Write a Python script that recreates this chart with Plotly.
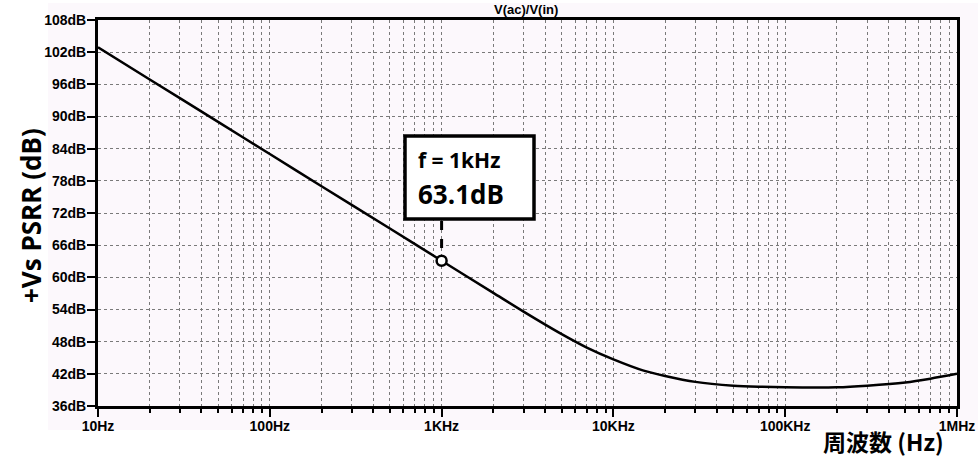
import plotly.graph_objects as go
import math

# ---- data ----
freq_hz = [10, 20, 50, 100, 200, 500, 1000, 2000, 3000, 5000, 7000, 10000,
           15000, 20000, 30000, 50000, 70000, 100000, 200000, 300000,
           500000, 700000, 1000000]
psrr_db = [102.9, 96.9, 89.0, 83.0, 77.0, 69.1, 63.1, 57.1, 53.6, 49.4, 46.9, 44.7,
           42.6, 41.6, 40.5, 39.8, 39.6, 39.5, 39.5, 39.8,
           40.4, 41.1, 42.0]

x_tick_vals = [10, 100, 1000, 10000, 100000, 1000000]
x_tick_text = ["10Hz", "100Hz", "1KHz", "10KHz", "100KHz", "1MHz"]
y_tick_vals = [36, 42, 48, 54, 60, 66, 72, 78, 84, 90, 96, 102, 108]
y_tick_text = [f"{v}dB" for v in y_tick_vals]
minor_vals = [m * d for d in [10, 100, 1000, 10000, 100000] for m in range(2, 10)]

marker_f = [1000]
marker_db = [63.1]
label_freq = "f = 1kHz"
label_val = "63.1dB"

chart_title = "V(ac)/V(in)"
y_title = "+Vs PSRR (dB)"
x_title = "周波数 (Hz)"

# ---- geometry ----
W, H = 978, 460
L, R, T, B = 98, 21, 20, 54
PW, PH = W - L - R, H - T - B
X_RANGE = [1, 6]

def px(xpix):
    return (xpix - L) / PW

def py(ypix):
    return 1 - (ypix - T) / PH

def fx(freq):
    return (math.log10(freq) - X_RANGE[0]) / (X_RANGE[1] - X_RANGE[0])

PINK = "#FCF8FC"
GRID = "#7a7a7a"
FONT = "Liberation Sans, Arial, sans-serif"
CAL = "Open Sans, Noto Sans, sans-serif"

fig = go.Figure()

fig.add_trace(go.Scatter(
    x=freq_hz, y=psrr_db, mode="lines",
    line=dict(color="black", width=2.5, shape="spline", smoothing=0.8),
    hoverinfo="skip", showlegend=False,
))

fig.add_trace(go.Scatter(
    x=marker_f, y=marker_db, mode="markers",
    marker=dict(symbol="circle", size=10, color="white",
                line=dict(color="black", width=2.5)),
    showlegend=False, hoverinfo="skip",
))

shapes = [
    # pink background panel
    dict(type="rect", xref="paper", yref="paper", layer="below",
         x0=px(48), x1=px(978), y0=py(430), y1=py(3),
         fillcolor=PINK, line=dict(width=0)),
    # callout box
    dict(type="rect", xref="paper", yref="paper", layer="above",
         x0=px(405), x1=px(534), y0=py(219), y1=py(136),
         fillcolor="white", line=dict(color="black", width=3.5)),
    # dashed leader
    dict(type="line", xref="paper", yref="paper", layer="above",
         x0=fx(marker_f[0]), x1=fx(marker_f[0]),
         y0=py(221), y1=py(256),
         line=dict(color="black", width=3, dash="dash")),
]

annotations = [
    dict(text=f"<b>{chart_title}</b>", xref="paper", yref="paper",
         x=px(526), y=py(10), xanchor="center", yanchor="middle", showarrow=False,
         font=dict(family=FONT, size=13, color="black")),
    dict(text=f"<b>{y_title}</b>", xref="paper", yref="paper",
         x=px(31), y=py(216), xanchor="center", yanchor="middle", showarrow=False,
         textangle=-90, font=dict(family=CAL, size=26, color="black")),
    dict(text=f"<b>{x_title}</b>", xref="paper", yref="paper",
         x=px(946), y=py(441), xanchor="right", yanchor="middle", showarrow=False,
         font=dict(family="Noto Sans CJK JP, Noto Sans, sans-serif", size=23, color="black")),
    dict(text=f"<b>{label_freq}</b>", xref="paper", yref="paper",
         x=px(416), y=py(160), xanchor="left", yanchor="middle", showarrow=False,
         font=dict(family=CAL, size=21, color="black")),
    dict(text=f"<b>{label_val}</b>", xref="paper", yref="paper",
         x=px(416), y=py(194), xanchor="left", yanchor="middle", showarrow=False,
         font=dict(family=CAL, size=26, color="black")),
]

fig.update_layout(
    width=W, height=H,
    margin=dict(l=L, r=R, t=T, b=B, pad=0, autoexpand=False),
    paper_bgcolor="white", plot_bgcolor=PINK,
    shapes=shapes, annotations=annotations,
    showlegend=False,
)

fig.update_xaxes(
    type="log", range=X_RANGE, automargin=False,
    tickvals=x_tick_vals, ticktext=x_tick_text,
    tickfont=dict(family=FONT, size=14, color="black", weight="bold"),
    ticks="outside", ticklen=8, tickwidth=2, tickcolor="black",
    ticklabelstandoff=-3,
    showline=True, linecolor="black", linewidth=3, mirror=True,
    showgrid=True, gridcolor=GRID, griddash="dot", gridwidth=1,
    zeroline=False,
    minor=dict(tickvals=minor_vals, ticks="outside", ticklen=4, tickwidth=2,
               tickcolor="black", showgrid=True, gridcolor=GRID,
               griddash="dot", gridwidth=1),
)

fig.update_yaxes(
    range=[36, 108], automargin=False,
    tickvals=y_tick_vals, ticktext=y_tick_text,
    tickfont=dict(family=FONT, size=14, color="black", weight="bold"),
    ticks="outside", ticklen=8, tickwidth=2, tickcolor="black",
    ticklabelstandoff=-2,
    showline=True, linecolor="black", linewidth=3, mirror=True,
    showgrid=True, gridcolor=GRID, griddash="dot", gridwidth=1,
    zeroline=False,
)

fig.write_html(
    "out.html",
    config={"displayModeBar": False},
    post_script="document.body.style.margin='0';document.body.style.overflow='hidden';",
)
